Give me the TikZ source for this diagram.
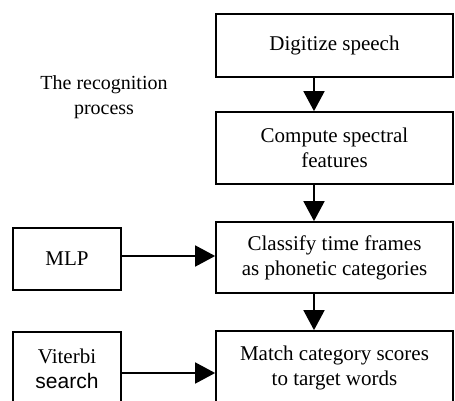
\documentclass[tikz,border=0pt]{standalone}
\usepackage{fontspec}
\setmainfont{Liberation Serif}
\newfontfamily\arialfont{Liberation Sans}
\usetikzlibrary{arrows.meta}
\begin{document}
\begin{tikzpicture}[x=1pt,y=-1pt,
  box/.style={draw, line width=1.7pt, minimum width=237pt, align=center,
    font=\fontsize{21}{25}\selectfont, inner sep=0pt},
  sidebox/.style={draw, line width=1.7pt, minimum width=108pt, align=center,
    font=\fontsize{21}{25}\selectfont, inner sep=0pt},
  arr/.style={line width=1.7pt, -{Triangle[length=20pt,width=21pt]}}]
\useasboundingbox (0,0) rectangle (455,401);
\clip (0,0) rectangle (455,401);
\node[box, minimum height=63pt] (b1) at (334.5,45.5) {Digitize speech};
\node[box, minimum height=72pt] (b2) at (334.5,148) {Compute spectral\\features};
\node[box, minimum height=71pt] (b3) at (334.5,257.5) {Classify time frames\\as phonetic categories};
\node[box, minimum height=74pt] (b4) at (334.5,368) {Match category scores\\to target words};
\node[sidebox, minimum height=62pt] (mlp) at (67,259) {MLP};
\node[sidebox, minimum height=73pt] (vit) at (67,368.5) {Viterbi\\{\arialfont search}};
\node[align=center, font=\fontsize{20}{25}\selectfont] (title) at (104,97.5) {The recognition\\process};
\draw[arr] ([xshift=-20.5pt]b1.south) -- ([xshift=-20.5pt]b2.north);
\draw[arr] ([xshift=-20.5pt]b2.south) -- ([xshift=-20.5pt]b3.north);
\draw[arr] ([xshift=-20.5pt]b3.south) -- ([xshift=-20.5pt]b4.north);
\draw[arr] ([yshift=3pt]mlp.east) -- ([yshift=3pt]mlp.east -| b3.west);
\draw[arr] ([yshift=-4.5pt]vit.east) -- ([yshift=-4.5pt]vit.east -| b4.west);
\end{tikzpicture}
\end{document}
